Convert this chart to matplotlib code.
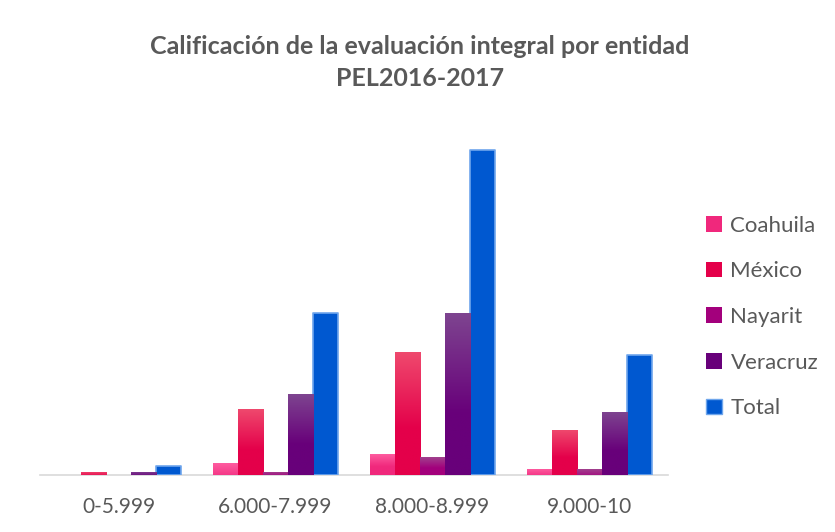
import matplotlib
matplotlib.use("Agg")
import matplotlib.pyplot as plt
import numpy as np
from matplotlib.colors import LinearSegmentedColormap
from matplotlib.patches import Patch

categories = ["0-5.999", "6.000-7.999", "8.000-8.999", "9.000-10"]
coahuila = [0, 4, 7, 2]
mexico = [1, 22, 41, 15]
nayarit = [0, 1, 6, 2]
veracruz = [1, 27, 54, 21]
total = [3, 54, 108, 40]

series_names = ["Coahuila", "México", "Nayarit", "Veracruz", "Total"]
series_vals = [coahuila, mexico, nayarit, veracruz, total]
grad = [("#FF5FA2", "#F0287C"), ("#EF4A6E", "#E4004A"), ("#A0478F", "#A3007C"),
        ("#7E4590", "#68007A"), ("#0058D0", "#0058D0")]

plt.rcParams['font.family'] = ['Lato', 'DejaVu Sans']
fig = plt.figure(figsize=(8.35, 5.32), dpi=100)
W, H = 835, 532
ax = fig.add_axes([40 / W, 57 / H, (668 - 40) / W, (475 - 114) / H])

n = len(series_names)
bw = 0.16
x = np.arange(len(categories))
for i, (name, vals, (ctop, cbot)) in enumerate(zip(series_names, series_vals, grad)):
    pos = x + (i - (n - 1) / 2) * bw
    if name == "Total":
        bars = ax.bar(pos, vals, width=bw, color=ctop, edgecolor="#6FA6EC",
                      linewidth=1.2, zorder=3, label=name)
        for b in bars:
            b.set_joinstyle("round")
    else:
        bars = ax.bar(pos, vals, width=bw, color=cbot, linewidth=0, zorder=3, label=name)
        cmap = LinearSegmentedColormap.from_list(name, [cbot, ctop])
        for b in bars:
            h = b.get_height()
            if h <= 0:
                continue
            g = np.linspace(1, 0, 100).reshape(-1, 1)
            g = np.clip(g * 1.6 - 0.6, 0, 1) if h > 5 else np.linspace(1, 0.3, 100).reshape(-1, 1)
            im = ax.imshow(g, cmap=cmap, vmin=0, vmax=1, aspect="auto",
                           extent=[b.get_x(), b.get_x() + b.get_width(), 0, h],
                           zorder=3.5, interpolation="bilinear")
            im.set_clip_path(b)

ax.set_xlim(-0.5, len(categories) - 0.5)
ax.set_ylim(0, 120)
for s in ["top", "right", "left"]:
    ax.spines[s].set_visible(False)
ax.spines["bottom"].set_color("#D9D9D9")
ax.spines["bottom"].set_linewidth(1.2)
ax.set_yticks([])
ax.set_xticks(x)
ax.set_xticklabels(categories, fontsize=15, color="#595959")
ax.tick_params(axis="x", length=0, pad=16)

fig.text(420 / W, 1 - 46 / H, "Calificación de la evaluación integral por entidad",
         ha="center", va="center", fontsize=18, fontweight="bold", color="#595959")
fig.text(420 / W, 1 - 79 / H, "PEL2016-2017",
         ha="center", va="center", fontsize=18, fontweight="bold", color="#595959")

handles = [Patch(facecolor=grad[i][1], edgecolor="none") for i in range(4)]
handles.append(Patch(facecolor="#0058D0", edgecolor="#6FA6EC", linewidth=1))
leg = fig.legend(handles, series_names, loc="center left", bbox_to_anchor=(706 / W, 1 - 317 / H),
                 frameon=False, fontsize=16, labelcolor="#595959", labelspacing=1.15,
                 handlelength=0.7, handleheight=0.7, handletextpad=0.4,
                 borderaxespad=0, borderpad=0)

fig.savefig("out.png", dpi=100)
